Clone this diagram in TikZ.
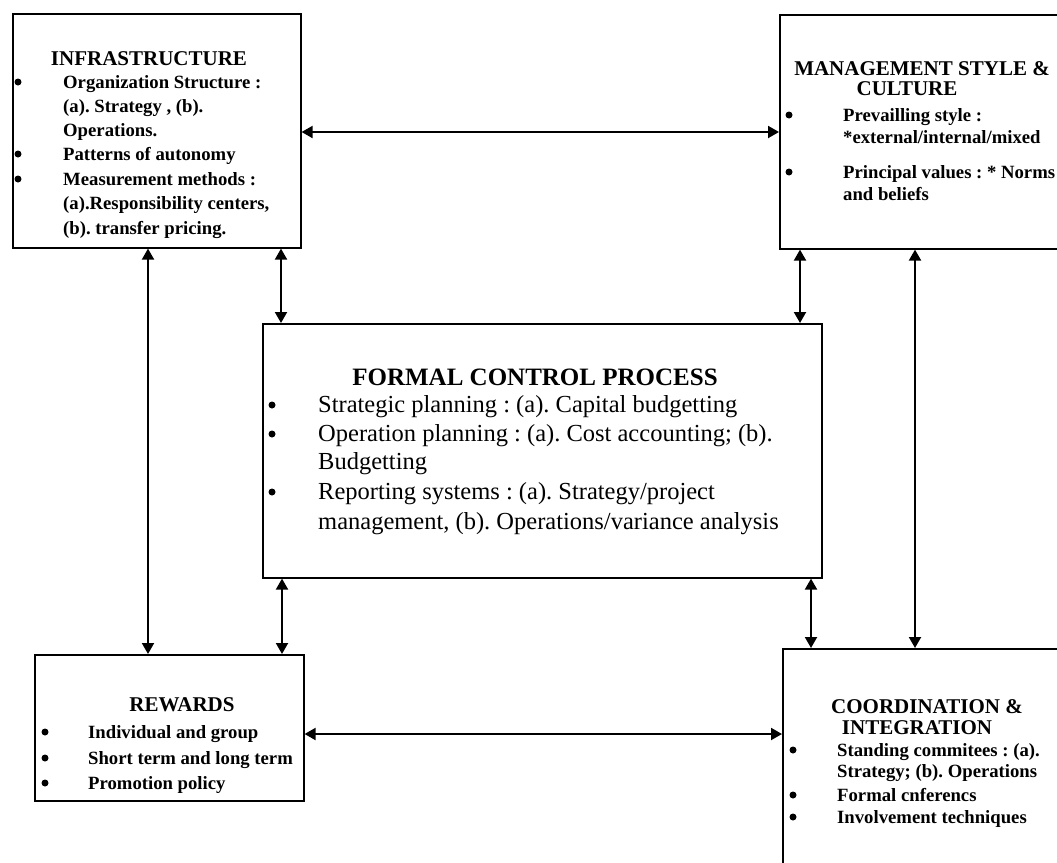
\documentclass[tikz,border=0pt]{standalone}
\usepackage{fontspec}
\setmainfont{Liberation Serif}
\usetikzlibrary{arrows.meta}
\tikzset{box/.style={draw, line width=1.6pt, inner sep=0pt, anchor=north west}}
\tikzset{link/.style={{Triangle[width=12pt,length=11pt]}-{Triangle[width=12pt,length=11pt]}, line width=2pt}}
\tikzset{head/.style={anchor=base, yshift=-7pt, inner sep=0pt, font=\fontsize{21}{24}\selectfont\bfseries}}
\tikzset{item/.style={anchor=base west, yshift=-6pt, inner sep=0pt, font=\fontsize{18.7}{22}\selectfont\bfseries}}
\tikzset{bighead/.style={anchor=base, yshift=-8pt, inner sep=0pt, font=\fontsize{25}{29}\selectfont\bfseries}}
\tikzset{bigitem/.style={anchor=base west, yshift=-7pt, inner sep=0pt, font=\fontsize{24.5}{29}\selectfont}}
\tikzset{dot/.style={circle, fill, inner sep=0pt, minimum size=7pt}}

\begin{document}
\frenchspacing
\begin{tikzpicture}[x=1pt, y=-1pt]
\useasboundingbox (0,0) rectangle (1057,862);
\clip (0,0) rectangle (1057,862);

% boxes
\node[box, minimum width=288pt, minimum height=234pt] (infra) at (12,13) {};
\node[box, minimum width=300pt, minimum height=234pt] (mgmt) at (779,14) {};
\node[box, minimum width=559pt, minimum height=254pt] (formal) at (262,323) {};
\node[box, minimum width=269pt, minimum height=146pt] (rewards) at (34,654) {};
\node[box, minimum width=300pt, minimum height=250pt] (coord) at (782,648) {};

% infrastructure
\node[head] (infra-t) at (149,58) {INFRASTRUCTURE};
\node[dot] (infra-d1) at (18,82) {};
\node[item] (infra-1) at (63,82) {Organization Structure :};
\node[item] (infra-2) at (63,106) {(a). Strategy , (b).};
\node[item] (infra-3) at (63,130) {Operations.};
\node[dot] (infra-d2) at (18,154) {};
\node[item] (infra-4) at (63,154) {Patterns of autonomy};
\node[dot] (infra-d3) at (18,179) {};
\node[item] (infra-5) at (63,179) {Measurement methods :};
\node[item] (infra-6) at (63,203) {(a).Responsibility centers,};
\node[item] (infra-7) at (63,228) {(b). transfer pricing.};

% management style
\node[head] (mgmt-t1) at (922,68) {MANAGEMENT STYLE \&};
\node[head] (mgmt-t2) at (907,88) {CULTURE};
\node[dot] (mgmt-d1) at (789,115) {};
\node[item] (mgmt-1) at (843,115) {Prevailling style :};
\node[item] (mgmt-2) at (843,137) {*external/internal/mixed};
\node[dot] (mgmt-d2) at (789,172) {};
\node[item] (mgmt-3) at (843,172) {Principal values : * Norms};
\node[item] (mgmt-4) at (843,194) {and beliefs};

% formal control process
\node[bighead] (formal-t) at (535,377) {FORMAL CONTROL PROCESS};
\node[dot] (formal-d1) at (272,405) {};
\node[bigitem] (formal-1) at (318,405) {Strategic planning : (a). Capital budgetting};
\node[dot] (formal-d2) at (272,434) {};
\node[bigitem] (formal-2) at (318,434) {Operation planning : (a). Cost accounting; (b).};
\node[bigitem] (formal-3) at (318,462) {Budgetting};
\node[dot] (formal-d3) at (272,492) {};
\node[bigitem] (formal-4) at (318,492) {Reporting systems : (a). Strategy/project};
\node[bigitem] (formal-5) at (318,522) {management, (b). Operations/variance analysis};

% rewards
\node[head] (rewards-t) at (182,704) {REWARDS};
\node[dot] (rewards-d1) at (45,732) {};
\node[item] (rewards-1) at (88,732) {Individual and group};
\node[dot] (rewards-d2) at (45,758) {};
\node[item] (rewards-2) at (88,758) {Short term and long term};
\node[dot] (rewards-d3) at (45,783) {};
\node[item] (rewards-3) at (88,783) {Promotion policy};

% coordination
\node[head] (coord-t1) at (927,706) {COORDINATION \&};
\node[head] (coord-t2) at (917,727) {INTEGRATION};
\node[dot] (coord-d1) at (793,750) {};
\node[item] (coord-1) at (837,750) {Standing commitees : (a).};
\node[item] (coord-2) at (837,771) {Strategy; (b). Operations};
\node[dot] (coord-d2) at (793,795) {};
\node[item] (coord-3) at (837,795) {Formal cnferencs};
\node[dot] (coord-d3) at (793,817) {};
\node[item] (coord-4) at (837,817) {Involvement techniques};

% links
\draw[link] (infra.east |- 0,132) -- (mgmt.west |- 0,132);
\draw[link] (rewards.east |- 0,734) -- (coord.west |- 0,734);
\draw[link] (infra.south -| 148,0) -- (rewards.north -| 148,0);
\draw[link] (infra.south -| 281,0) -- (formal.north -| 281,0);
\draw[link] (mgmt.south -| 800,0) -- (formal.north -| 800,0);
\draw[link] (formal.south -| 282,0) -- (rewards.north -| 282,0);
\draw[link] (formal.south -| 811,0) -- (coord.north -| 811,0);
\draw[link] (mgmt.south -| 915,0) -- (coord.north -| 915,0);
\end{tikzpicture}
\end{document}
